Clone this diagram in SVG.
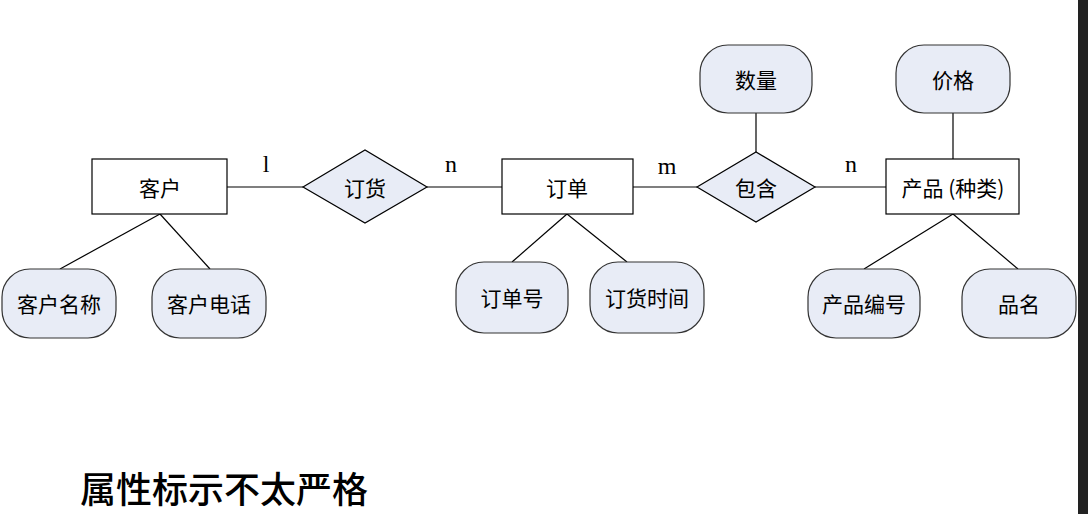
<svg xmlns="http://www.w3.org/2000/svg" width="1088" height="514" viewBox="0 0 1088 514">
<style>
.e{fill:#fff;stroke:#000;stroke-width:1.2}
.r{fill:#e8ecf6;stroke:#000;stroke-width:1.2}
.a{fill:#e8ecf6;stroke:#333;stroke-width:1.2}
.t{font-family:"Noto Sans CJK SC",sans-serif;font-size:21px;text-anchor:middle;dominant-baseline:central;fill:#000}
.c{font-family:"Liberation Serif",serif;font-size:24px;text-anchor:middle;fill:#000}
line{stroke:#000;stroke-width:1.2}
</style>
<rect width="1088" height="514" fill="#fff"/>
<rect x="1078" y="0" width="10" height="514" fill="#222"/>
<g id="connectors">
<line x1="227" y1="187" x2="303" y2="187"/><line x1="427" y1="187" x2="502" y2="187"/>
<line x1="633" y1="187" x2="697" y2="187"/><line x1="815" y1="187" x2="886" y2="187"/>
<line x1="160" y1="214" x2="60" y2="269"/><line x1="160" y1="214" x2="210" y2="269"/>
<line x1="567" y1="214" x2="512" y2="262"/><line x1="567" y1="214" x2="627" y2="262"/>
<line x1="953" y1="214" x2="864" y2="269"/><line x1="953" y1="214" x2="1018" y2="269"/>
<line x1="756" y1="113" x2="756" y2="152"/><line x1="953" y1="113" x2="953" y2="159"/>
<text class="c" x="266" y="172">l</text><text class="c" x="451" y="172">n</text>
<text class="c" x="667" y="174">m</text><text class="c" x="851" y="172">n</text>
</g>
<g id="kehu"><rect class="e" x="92" y="159" width="135" height="55"/><text class="t" x="160" y="187">客户</text></g>
<g id="dinghuo"><polygon class="r" points="303,187 365,150 427,187 365,223"/><text class="t" x="365" y="187">订货</text></g>
<g id="dingdan"><rect class="e" x="502" y="159" width="131" height="55"/><text class="t" x="567" y="187">订单</text></g>
<g id="baohan"><polygon class="r" points="697,187 756,152 815,187 756,222"/><text class="t" x="756" y="187">包含</text></g>
<g id="chanpin"><rect class="e" x="886" y="159" width="133" height="55"/><text class="t" x="953" y="187">产品 (种类)</text></g>
<g id="shuliang"><rect class="a" x="700" y="45" width="112" height="68" rx="28"/><text class="t" x="756" y="79">数量</text></g>
<g id="jiage"><rect class="a" x="896" y="45" width="114" height="68" rx="28"/><text class="t" x="953" y="79">价格</text></g>
<g id="kehumingcheng"><rect class="a" x="2" y="269" width="114" height="69" rx="28"/><text class="t" x="59" y="303">客户名称</text></g>
<g id="kehudianhua"><rect class="a" x="152" y="269" width="114" height="69" rx="28"/><text class="t" x="209" y="303">客户电话</text></g>
<g id="dingdanhao"><rect class="a" x="456" y="262" width="112" height="71" rx="28"/><text class="t" x="512" y="297">订单号</text></g>
<g id="dinghuoshijian"><rect class="a" x="590" y="262" width="114" height="71" rx="28"/><text class="t" x="647" y="297">订货时间</text></g>
<g id="chanpinbianhao"><rect class="a" x="808" y="269" width="112" height="69" rx="28"/><text class="t" x="864" y="303">产品编号</text></g>
<g id="pinming"><rect class="a" x="962" y="269" width="114" height="69" rx="28"/><text class="t" x="1019" y="303">品名</text></g>
<text x="80" y="503" font-family="Noto Sans CJK SC,sans-serif" font-size="36" font-weight="500">属性标示不太严格</text>
</svg>
